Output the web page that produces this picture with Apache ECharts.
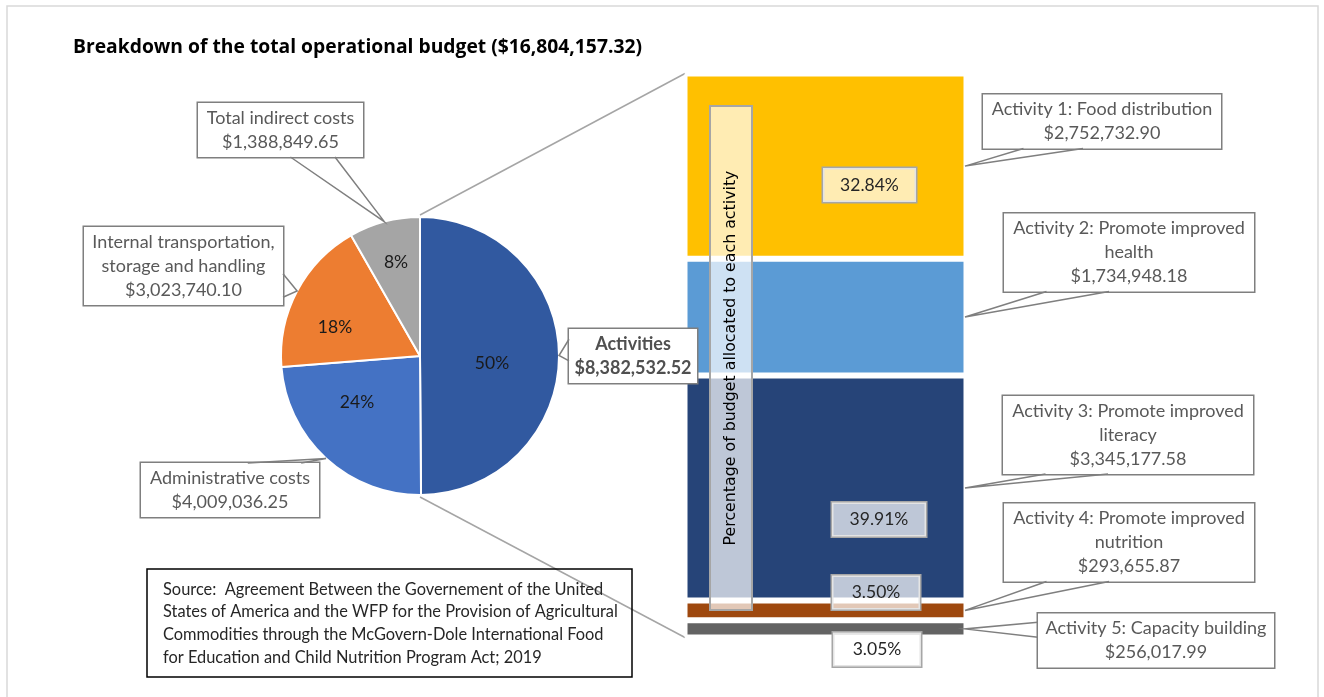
<!DOCTYPE html>
<html>
<head>
<meta charset="utf-8">
<script src="https://cdn.jsdelivr.net/npm/echarts@6/dist/echarts.min.js"></script>
<style>html,body{margin:0;padding:0;background:#fff}#c{width:1324px;height:697px}</style>
</head>
<body>
<div id="c"></div>
<script>
// ---------------- DATA ----------------
const chartTitle = 'Breakdown of the total operational budget ($16,804,157.32)';
const pieNames = ['Activities', 'Administrative costs', 'Internal transportation, storage and handling', 'Total indirect costs'];
const pieCalloutNames = ['Activities', 'Administrative costs', 'Internal transportation,\nstorage and handling', 'Total indirect costs'];
const pieValues = [8382532.52, 4009036.25, 3023740.10, 1388849.65];
const activityNames = ['Activity 1: Food distribution', 'Activity 2: Promote improved health', 'Activity 3: Promote improved literacy', 'Activity 4: Promote improved nutrition', 'Activity 5: Capacity building'];
const activityCalloutNames = ['Activity 1: Food distribution', 'Activity 2: Promote improved\nhealth', 'Activity 3: Promote improved\nliteracy', 'Activity 4: Promote improved\nnutrition', 'Activity 5: Capacity building'];
const activityValues = [2752732.90, 1734948.18, 3345177.58, 293655.87, 256017.99];
const activityPctShown = [true, false, true, true, true];
const axisTitle = 'Percentage of budget allocated to each activity';
const sourceLines = [
  'Source:  Agreement Between the Governement of the United',
  'States of America and the WFP for the Provision of Agricultural',
  'Commodities through the McGovern-Dole International Food',
  'for Education and Child Nutrition Program Act; 2019'
];

// ---------------- LAYOUT / STYLE ----------------
const FONT = 'Lato';
const PIE = {cx: 420, cy: 356, r: 139};
const BW = 3; // white border between bar segments
const BAR = {left: 684.5, top: 73.5, width: 282, height: 564};
const pieColors = ['#3159A0', '#4472C4', '#ED7D31', '#A5A5A5'];
const barColors = ['#FFC000', '#5B9BD5', '#264478', '#9E480E', '#636363'];
const piePctPos = [[492, 363], [357, 402], [335, 327], [396, 262]];
const pieBoxes = [
  {c: [633, 356], w: 128, edge: 'left', a: 0.19, b: 0.59, bold: true},
  {c: [230, 490], w: 178, edge: 'top', a: 0.6, b: 0.9},
  {c: [183.5, 266], w: 199, edge: 'right', a: 0.6, b: 0.9},
  {c: [280.5, 130], w: 165, edge: 'bottom', a: 0.56, b: 0.83}
];
const barBoxes = [
  {c: [1102, 121.5], w: 238, edge: 'bottom', a: 0.17, b: 0.42},
  {c: [1129, 252.5], w: 250, edge: 'bottom', a: 0.17, b: 0.42},
  {c: [1128, 435], w: 250, edge: 'bottom', a: 0.17, b: 0.42},
  {c: [1129, 542.5], w: 250, edge: 'bottom', a: 0.17, b: 0.42},
  {c: [1156, 640.5], w: 236, edge: 'left', a: 0.16, b: 0.44}
];
const pctBoxes = [{c: [869.5, 185], w: 93}, null, {c: [879, 519.5], w: 94}, {c: [876, 592.5], w: 88}, {c: [877, 649.5], w: 88}];
const LH = 24, PADV = 3, PADH = 4;
const CALLOUT_FS = 18;

// ---------------- HELPERS ----------------
function money(v) {
  const s = v.toFixed(2).split('.');
  return '$' + s[0].replace(/\B(?=(\d{3})+$)/g, ',') + '.' + s[1];
}
function lines(t) { return t.split('\n').length; }
function boxH(nLines) { return nLines * LH + 2 * PADV; }
function tailPts(box, h, tip) {
  const x0 = box.c[0] - box.w / 2, y0 = box.c[1] - h / 2;
  let A, B;
  if (box.edge === 'bottom') { A = [x0 + box.w * box.a, y0 + h]; B = [x0 + box.w * box.b, y0 + h]; }
  else if (box.edge === 'top') { A = [x0 + box.w * box.a, y0]; B = [x0 + box.w * box.b, y0]; }
  else if (box.edge === 'left') { A = [x0, y0 + h * box.a]; B = [x0, y0 + h * box.b]; }
  else { A = [x0 + box.w, y0 + h * box.a]; B = [x0 + box.w, y0 + h * box.b]; }
  return [A, tip, B];
}

const actTotal = activityValues.reduce((a, b) => a + b, 0);

const calloutLabel = {
  show: true, fontFamily: FONT, fontSize: CALLOUT_FS, lineHeight: LH, color: '#595959',
  backgroundColor: '#fff', borderColor: '#7F7F7F', borderWidth: 1.5,
  padding: [PADV, PADH], align: 'center'
};

const chart = echarts.init(document.getElementById('c'), null, {renderer: 'canvas', width: 1324, height: 697});

const series = [];
series.push({
  type: 'pie', id: 'pie', center: [PIE.cx, PIE.cy], radius: PIE.r, startAngle: 90, clockwise: true,
  silent: true, avoidLabelOverlap: false,
  itemStyle: {borderColor: '#fff', borderWidth: 2},
  label: {show: true, position: 'inside', formatter: p => Math.round(p.percent) + '%', fontFamily: FONT, fontSize: 17.5, color: '#1a1a1a'},
  labelLine: {show: false},
  labelLayout: p => ({x: piePctPos[p.dataIndex][0], y: piePctPos[p.dataIndex][1], align: 'center', verticalAlign: 'middle'}),
  data: pieValues.map((v, i) => ({name: pieNames[i], value: v, itemStyle: {color: pieColors[i]}}))
});
series.push({
  type: 'pie', id: 'pieCallouts', z: 3, center: [PIE.cx, PIE.cy], radius: PIE.r, startAngle: 90, clockwise: true,
  silent: true, avoidLabelOverlap: false,
  itemStyle: {color: 'rgba(0,0,0,0)', borderWidth: 0},
  label: Object.assign({}, calloutLabel, {position: 'outside', formatter: p => pieCalloutNames[p.dataIndex] + '\n' + money(p.value)}),
  labelLine: {show: false},
  labelLayout: p => ({x: pieBoxes[p.dataIndex].c[0], y: pieBoxes[p.dataIndex].c[1], align: 'center', verticalAlign: 'middle'}),
  data: pieValues.map((v, i) => ({
    name: pieNames[i], value: v,
    label: {width: pieBoxes[i].w - 2 * PADH, fontWeight: pieBoxes[i].bold ? 'bold' : 'normal', color: pieBoxes[i].bold ? '#505050' : '#595959'}
  }))
});
activityValues.forEach((v, i) => {
  series.push({
    type: 'bar', name: activityNames[i], stack: 'act', barWidth: '100%', barGap: '-100%', silent: true,
    itemStyle: {color: barColors[i], borderColor: '#fff', borderWidth: BW},
    label: Object.assign({}, calloutLabel, {width: barBoxes[i].w - 2 * PADH, formatter: () => activityCalloutNames[i] + '\n' + money(v)}),
    labelLayout: () => ({x: barBoxes[i].c[0], y: barBoxes[i].c[1], align: 'center', verticalAlign: 'middle'}),
    data: [v]
  });
});
activityValues.forEach((v, i) => {
  const pb = pctBoxes[i];
  series.push({
    type: 'bar', name: activityNames[i] + ' %', stack: 'pct', barWidth: '100%', barGap: '-100%', silent: true, z: 4,
    itemStyle: {color: 'rgba(0,0,0,0)'},
    label: {
      show: activityPctShown[i], fontFamily: FONT, fontSize: 17.5, lineHeight: 28, color: '#262626',
      backgroundColor: 'rgba(255,255,255,0.7)', borderColor: '#A6A6A6', borderWidth: 1.5,
      padding: [PADV, PADH], align: 'center', width: pb ? pb.w - 2 * PADH : undefined,
      formatter: () => (v / actTotal * 100).toFixed(2) + '%'
    },
    labelLayout: () => pb ? ({x: pb.c[0], y: pb.c[1], align: 'center', verticalAlign: 'middle'}) : ({}),
    data: [v]
  });
});

chart.setOption({
  animation: false,
  title: {text: chartTitle, left: 73, top: 38, padding: 0, textStyle: {fontFamily: 'Open Sans', fontSize: 19.3, fontWeight: 'bold', color: '#000'}},
  grid: {left: BAR.left, top: BAR.top, width: BAR.width, height: BAR.height, containLabel: false},
  xAxis: {type: 'category', data: ['Activities'], show: false},
  yAxis: {type: 'value', min: 0, max: actTotal, inverse: true, show: false},
  series: series
});

// ---------------- ANNOTATIONS (callout tails, connectors, text boxes) ----------------
const g = [];
g.push({type: 'rect', z: 0, silent: true, shape: {x: 7, y: 6, width: 1311, height: 720}, style: {fill: 'none', stroke: '#D9D9D9', lineWidth: 1.5}});

const barLeft = BAR.left + BW / 2, barRight = BAR.left + BAR.width - BW / 2;
const barTopPx = chart.convertToPixel({yAxisIndex: 0}, 0);
const barBotPx = chart.convertToPixel({yAxisIndex: 0}, actTotal);
const lineStyleConn = {stroke: '#A5A5A5', lineWidth: 1.5, fill: 'none'};
g.push({type: 'line', z: 1, silent: true, shape: {x1: PIE.cx, y1: PIE.cy - PIE.r - 2, x2: barLeft - 1, y2: barTopPx}, style: lineStyleConn});
g.push({type: 'line', z: 1, silent: true, shape: {x1: PIE.cx, y1: PIE.cy + PIE.r + 2, x2: barLeft - 1, y2: barBotPx}, style: lineStyleConn});

const tailStyle = {stroke: '#7F7F7F', lineWidth: 1.5, fill: 'none'};
const pieTotal = pieValues.reduce((a, b) => a + b, 0);
let cum = 0;
pieValues.forEach((v, i) => {
  const mid = (cum + v / 2) / pieTotal * 2 * Math.PI; // clockwise from 12 o'clock
  cum += v;
  const tip = [PIE.cx + PIE.r * Math.sin(mid), PIE.cy - PIE.r * Math.cos(mid)];
  const h = boxH(lines(pieCalloutNames[i]) + 1);
  g.push({type: 'polyline', z: 5, silent: true, shape: {points: tailPts(pieBoxes[i], h, tip)}, style: tailStyle});
});
let acum = 0;
activityValues.forEach((v, i) => {
  const yMid = chart.convertToPixel({yAxisIndex: 0}, acum + v / 2);
  acum += v;
  const h = boxH(lines(activityCalloutNames[i]) + 1);
  g.push({type: 'polyline', z: 5, silent: true, shape: {points: tailPts(barBoxes[i], h, [barRight, yMid])}, style: tailStyle});
});

// vertical axis-title box
g.push({type: 'rect', z: 6, silent: true, shape: {x: 710, y: 106, width: 42, height: 504}, style: {fill: 'rgba(255,255,255,0.7)', stroke: '#A6A6A6', lineWidth: 2}});
g.push({type: 'text', z: 7, silent: true, x: 731, y: 358, rotation: Math.PI / 2,
  style: {text: axisTitle, fontFamily: 'DejaVu Sans', fontSize: 15.8, fill: '#000', align: 'center', verticalAlign: 'middle'}});

// source box
g.push({type: 'rect', z: 1, silent: true, shape: {x: 147, y: 569, width: 485, height: 108}, style: {fill: 'none', stroke: '#000', lineWidth: 1.5}});
g.push({type: 'text', z: 2, silent: true, x: 163, y: 578,
  style: {text: sourceLines.join('\n'), fontFamily: FONT, fontSize: 16.4, lineHeight: 22.7, fill: '#262626', align: 'left', verticalAlign: 'top'}});

chart.setOption({graphic: g});
</script>
</body>
</html>
